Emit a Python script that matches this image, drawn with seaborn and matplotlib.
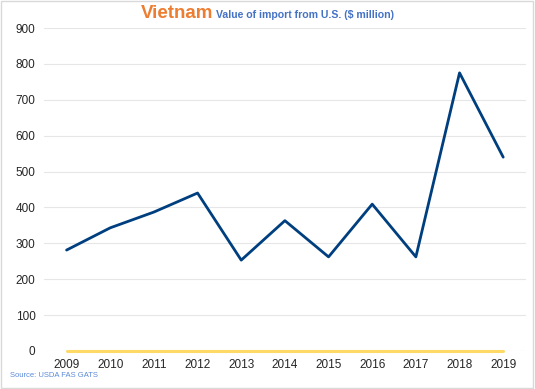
import matplotlib
matplotlib.use("Agg")
import matplotlib.pyplot as plt
import seaborn as sns
import pandas as pd

# dati
anni = [2009, 2010, 2011, 2012, 2013, 2014, 2015, 2016, 2017, 2018, 2019]
valori = [281, 343, 387, 440, 253, 363, 262, 409, 262, 775, 540]
zero = [0] * len(anni)
y_ticks = [0, 100, 200, 300, 400, 500, 600, 700, 800, 900]

df = pd.DataFrame({"anno": anni, "valore": valori, "zero": zero})

sns.set_style("white")
plt.rcParams["font.family"] = ["Liberation Sans", "DejaVu Sans"]

fig = plt.figure(figsize=(5.35, 3.89), dpi=100)
ax = fig.add_axes([0.082, 0.098, 0.901, 0.830])

sns.lineplot(data=df, x="anno", y="zero", ax=ax, color="#FFD966", linewidth=2.2, clip_on=False)
sns.lineplot(data=df, x="anno", y="valore", ax=ax, color="#003F7F", linewidth=2)

ax.set_xlim(2008.48, 2019.52)
ax.set_ylim(0, 900)
ax.set_yticks(y_ticks)
ax.set_xticks(anni)
ax.set_xticklabels([str(a) for a in anni], fontsize=8.5)
ax.set_yticklabels([str(v) for v in y_ticks], fontsize=8.5)
ax.yaxis.grid(True, color="#E6E6E6", linewidth=0.8)
ax.set_axisbelow(True)
for s in ax.spines.values():
    s.set_visible(False)
ax.tick_params(axis="both", length=0, pad=6)
ax.set_xlabel("")
ax.set_ylabel("")

# titolo
fig.text(0.263, 0.955, "Vietnam", color="#ED7D31", fontsize=13.5, fontweight="bold",
         ha="left", va="baseline")
fig.text(0.404, 0.955, "Value of import from U.S. ($ million)", color="#4472C4",
         fontsize=7.6, fontweight="bold", ha="left", va="baseline")

fig.text(0.018, 0.030, "Source: USDA FAS GATS", color="#5B8BD9", fontsize=5.5,
         ha="left", va="baseline")

# cornice
fig.patches.append(plt.Rectangle((0.002, 0.003), 0.995, 0.994, transform=fig.transFigure,
                                 fill=False, edgecolor="#D9D9D9", linewidth=1))

fig.savefig("out.png", dpi=100)
